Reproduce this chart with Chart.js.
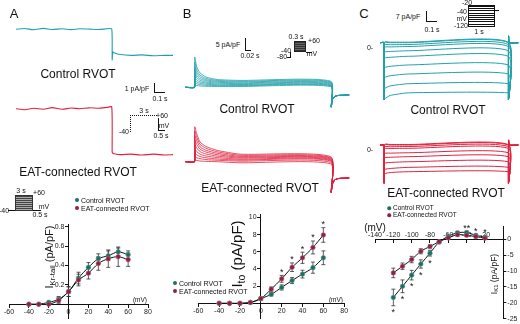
<!DOCTYPE html>
<html>
<head>
<meta charset="utf-8">
<title>IKr, Ito and IK1 in RVOT</title>
<script src="https://cdn.jsdelivr.net/npm/chart.js@4.4.1/dist/chart.umd.min.js"></script>
<style>
  body { margin: 0; background: #fff; }
  #fig { position: relative; width: 520px; height: 324px; overflow: hidden; font-family: Arial, "Liberation Sans", sans-serif; color: #111; }
  #fig canvas { position: absolute; z-index: 1; }
  .t, .l, .r { position: absolute; z-index: 2; white-space: nowrap; line-height: 1; }
  .t { transform: translate(-50%, -50%); }
  .l { transform: translateY(-50%); }
  .r { transform: translate(-100%, -50%); }
  .rot { transform: translate(-50%, -50%) rotate(-90deg); }
  .big { font-size: 12px; }
  .sm { font-size: 7px; }
  .ln { position: absolute; z-index: 2; background: #111; }
  .dot { position: absolute; z-index: 2; width: 4px; height: 4px; border-radius: 50%; transform: translate(-50%, -50%); }
  sub { font-size: 70%; vertical-align: -0.25em; }
</style>
</head>
<body>
<div id="fig">
  <!-- panel A -->
  <div class="t" style="left:14px;top:13px;font-size:13px">A</div>
  <div class="t big" style="left:78px;top:74px">Control RVOT</div>
  <div class="t sm" style="left:137px;top:88px">1 pA/pF</div>
  <div class="ln" style="left:154px;top:83px;width:1px;height:9px"></div>
  <div class="ln" style="left:154px;top:92px;width:11px;height:1px"></div>
  <div class="t sm" style="left:160px;top:98px">0.1 s</div>
  <div class="t sm" style="left:144px;top:110px">3 s</div>
  <div style="position:absolute;left:130px;top:115px;width:26px;height:16px;border-top:1px dotted #111;border-left:1px dotted #111"></div>
  <div class="r sm" style="left:129px;top:131px">-40</div>
  <div class="t sm" style="left:162px;top:115px">+60</div>
  <div class="ln" style="left:158px;top:118px;width:1px;height:12px"></div>
  <div class="ln" style="left:158px;top:130px;width:7px;height:1px"></div>
  <div class="t sm" style="left:164px;top:125px">mV</div>
  <div class="t sm" style="left:161px;top:135px">0.5 s</div>
  <div class="t big" style="left:78px;top:172px">EAT-connected RVOT</div>
  <div class="t sm" style="left:21px;top:190px">3 s</div>
  <div style="position:absolute;z-index:2;left:15px;top:195px;width:18px;height:16px;border:1px solid #333;box-sizing:border-box;background:repeating-linear-gradient(#444 0 1px,#aaa 1px 2px)"></div>
  <div class="ln" style="left:8px;top:210px;width:7px;height:1px"></div>
  <div class="ln" style="left:33px;top:210px;width:8px;height:1px"></div>
  <div class="t sm" style="left:39px;top:192px">+60</div>
  <div class="t sm" style="left:4px;top:210px">-40</div>
  <div class="t sm" style="left:44px;top:206px">mV</div>
  <div class="t sm" style="left:40px;top:214px">0.5 s</div>
  <div class="dot" style="left:77px;top:200px;background:#1e6e63"></div>
  <div class="l sm" style="left:81px;top:200px">Control RVOT</div>
  <div class="dot" style="left:77px;top:207.5px;background:#8b2242"></div>
  <div class="l sm" style="left:81px;top:207.5px">EAT-connected RVOT</div>
  <div class="t rot" style="left:50px;top:257px;font-size:11px">I<sub>Kr-tail</sub> (pA/pF)</div>
  <div class="t" style="left:140px;top:300px;font-size:6.5px">(mV)</div>

  <!-- panel B -->
  <div class="t" style="left:187px;top:13px;font-size:13px">B</div>
  <div class="t sm" style="left:228px;top:44px">5 pA/pF</div>
  <div class="ln" style="left:245px;top:38px;width:1px;height:12px"></div>
  <div class="ln" style="left:245px;top:50px;width:6px;height:1px"></div>
  <div class="t sm" style="left:250px;top:55px">0.02 s</div>
  <div class="t sm" style="left:296px;top:36px">0.3 s</div>
  <div style="position:absolute;z-index:2;left:294px;top:41px;width:12px;height:11px;border:1px solid #222;box-sizing:border-box;background:repeating-linear-gradient(#333 0 1px,#666 1px 2px)"></div>
  <div class="ln" style="left:290px;top:52px;width:1px;height:5px"></div>
  <div class="ln" style="left:287px;top:57px;width:4px;height:1px"></div>
  <div class="ln" style="left:306px;top:52px;width:6px;height:1px"></div>
  <div class="t sm" style="left:314px;top:40px">+60</div>
  <div class="t sm" style="left:286px;top:50px">-40</div>
  <div class="t sm" style="left:282px;top:56px">-80</div>
  <div class="t sm" style="left:312px;top:53px">mV</div>
  <div class="t big" style="left:257px;top:109px">Control RVOT</div>
  <div class="t big" style="left:260px;top:188px">EAT-connected RVOT</div>
  <div class="dot" style="left:175px;top:283px;background:#1e6e63"></div>
  <div class="l sm" style="left:179px;top:283px">Control RVOT</div>
  <div class="dot" style="left:175px;top:291px;background:#8b2242"></div>
  <div class="l sm" style="left:179px;top:291px">EAT-connected RVOT</div>
  <div class="t rot" style="left:238px;top:254px;font-size:15px">I<sub>to</sub> (pA/pF)</div>
  <div class="t" style="left:336px;top:300px;font-size:6.5px">(mV)</div>

  <!-- panel C -->
  <div class="t" style="left:364px;top:13px;font-size:13px">C</div>
  <div class="t sm" style="left:408px;top:15.5px">7 pA/pF</div>
  <div class="ln" style="left:426px;top:11px;width:1px;height:10px"></div>
  <div class="ln" style="left:426px;top:21px;width:11px;height:1px"></div>
  <div class="t sm" style="left:432px;top:29px">0.1 s</div>
  <div style="position:absolute;z-index:2;left:468px;top:5px;width:27px;height:22px;border:1px solid #111;box-sizing:border-box;background:repeating-linear-gradient(#111 0 1px,#fff 1px 2.2px)"></div>
  <div class="ln" style="left:495px;top:10px;width:4px;height:1px"></div>
  <div class="t sm" style="left:467px;top:2px">-20</div>
  <div class="r sm" style="left:467px;top:10.5px">-40</div>
  <div class="r sm" style="left:467px;top:17.5px">mV</div>
  <div class="r sm" style="left:468px;top:24.5px">-120</div>
  <div class="t sm" style="left:479px;top:30.5px">1 s</div>
  <div class="t sm" style="left:370px;top:47px">0-</div>
  <div class="t sm" style="left:370px;top:149px">0-</div>
  <div class="t big" style="left:448px;top:110px">Control RVOT</div>
  <div class="t big" style="left:446px;top:193px">EAT-connected RVOT</div>
  <div class="dot" style="left:389px;top:208px;width:3.5px;height:3.5px;background:#1e6e63"></div>
  <div class="l" style="left:393px;top:208px;font-size:6.5px">Control RVOT</div>
  <div class="dot" style="left:389px;top:215px;width:3.5px;height:3.5px;background:#8b2242"></div>
  <div class="l" style="left:393px;top:215px;font-size:6.5px">EAT-connected RVOT</div>
  <div class="t rot" style="left:495px;top:274px;font-size:8.5px">I<sub>K1</sub> (pA/pF)</div>
  <div class="t" style="left:375px;top:228px;font-size:10px">(mV)</div>
</div>

<script>
// ---- A: IKr tail current ----
const vA = [-40, -30, -20, -10, 0, 10, 20, 30, 40, 50, 60];
const ctrlA = [0, 0, 0.02, 0.05, 0.13, 0.27, 0.38, 0.47, 0.50, 0.54, 0.51];
const ctrlErrA = [0.005, 0.005, 0.01, 0.03, 0.05, 0.06, 0.05, 0.05, 0.05, 0.04, 0.04];
const eatA = [0, 0, 0, 0.04, 0.13, 0.25, 0.32, 0.42, 0.47, 0.49, 0.46];
const eatErrA = [0.005, 0.005, 0.005, 0.03, 0.05, 0.06, 0.06, 0.07, 0.09, 0.10, 0.07];
const xTicksA = [-60, -40, -20, 0, 20, 40, 60, 80];
const yTicksA = [0.2, 0.4, 0.6, 0.8];

// example traces (s, pA/pF)
const tA = [0, 0.08, 0.16, 0.25, 0.33, 0.42, 0.5, 0.58, 0.67, 0.75, 0.83, 0.872, 0.876, 0.882, 0.892, 0.95, 1.05, 1.15, 1.25, 1.35, 1.43];
const ctrlTraceA = [0, 0.08, -0.05, 0.1, -0.03, 0.06, -0.04, 0.05, 0.02, -0.03, 0.05, 0.05, -3.4, -2.5, -2.6, -2.8, -2.9, -2.85, -2.95, -2.9, -2.9];
const eatTraceA = [0, -0.12, 0.05, -0.05, 0.12, -0.06, 0.08, 0, 0.1, 0.05, 0.15, 0.2, -4.8, -4.95, -5.0, -5.1, -5.05, -5.15, -5.05, -5.15, -5.1];

// ---- B: Ito ----
const vB = [-40, -30, -20, -10, 0, 10, 20, 30, 40, 50, 60];
const ctrlB = [0, 0, 0, 0.1, 0.55, 1.05, 1.85, 2.65, 3.4, 4.15, 5.3];
const ctrlErrB = [0.05, 0.05, 0.05, 0.1, 0.15, 0.2, 0.3, 0.35, 0.45, 0.65, 0.8];
const eatB = [0, 0, 0, 0.1, 0.55, 1.65, 2.85, 4.2, 5.3, 6.5, 7.95];
const eatErrB = [0.05, 0.05, 0.05, 0.1, 0.15, 0.25, 0.4, 0.5, 0.65, 0.75, 0.85];
const starsB = [20, 30, 40, 50, 60];
const xTicksB = [-60, -40, -20, 0, 20, 40, 60, 80];
const yTicksB = [2, 4, 6, 8, 10];

// example traces (ms, pA/pF): values at tB for each step
const tB = [-20, 0, 0.5, 5, 12, 25, 50, 100, 299.5, 300.5, 303, 308, 315, 340];
const ctrlTraceB = [
  [16.8, 11.3, 8.0, 5.7, 4.3, 3.8, 3.4],
  [14.0, 9.5, 6.8, 4.9, 3.8, 3.3, 3.0],
  [11.5, 8.0, 5.8, 4.2, 3.3, 2.9, 2.6],
  [9.5, 6.6, 4.8, 3.6, 2.8, 2.4, 2.2],
  [7.5, 5.3, 3.9, 2.9, 2.3, 2.0, 1.8],
  [5.5, 4.0, 3.0, 2.3, 1.8, 1.5, 1.4],
  [4.0, 2.9, 2.2, 1.7, 1.3, 1.1, 1.0],
  [2.5, 1.9, 1.4, 1.1, 0.9, 0.8, 0.7],
  [1.2, 0.9, 0.7, 0.5, 0.4, 0.4, 0.3]
];
const ctrlTailB = [-11, -7, -5.2, -4.6, -4.3];
const eatTraceB = [
  [19.4, 15.5, 11.0, 8.5, 6.3, 4.2, 2.8],
  [17.0, 13.5, 9.7, 7.5, 5.5, 3.6, 2.3],
  [14.5, 11.6, 8.3, 6.4, 4.7, 3.0, 1.9],
  [12.0, 9.6, 7.0, 5.4, 3.9, 2.5, 1.5],
  [9.5, 7.6, 5.6, 4.3, 3.1, 2.0, 1.1],
  [7.0, 5.6, 4.2, 3.2, 2.3, 1.4, 0.7],
  [4.8, 3.8, 2.9, 2.2, 1.5, 0.9, 0.3],
  [2.8, 2.2, 1.7, 1.2, 0.8, 0.3, -0.4],
  [1.0, 0.7, 0.4, 0.2, 0.0, -0.6, -1.2]
];
const eatTailB = [-17, -12.5, -10.2, -9.4, -9];

// ---- C: IK1 ----
const vC = [-120, -110, -100, -90, -80, -70, -60, -50, -40, -30, -20];
const ctrlC = [-18.3, -14.8, -11.3, -7.8, -4.4, -0.9, 0.9, 2.0, 2.1, 1.2, 0.6];
const ctrlErrC = [2.6, 2.0, 1.5, 1.3, 0.9, 0.5, 0.4, 0.4, 0.4, 0.4, 0.4];
const eatC = [-10.6, -8.5, -6.4, -3.8, -2.3, -0.8, 0.4, 1.4, 1.2, 0.8, 0.3];
const eatErrC = [1.5, 1.0, 1.0, 0.8, 0.5, 0.4, 0.4, 0.4, 0.4, 0.4, 0.4];
const starsBelowC = [-120, -110, -100, -90, -80];
const starsAboveC = [-40, -30, -20];
const starTextAboveC = ['**', '*', '*'];
const xTicksC = [-140, -120, -100, -80, -60, -40, -20];
const yTicksC = [0, -5, -10, -15, -20, -25];

// example traces (s, pA/pF)
const tC = [-0.03, 0, 0.001, 0.004, 0.05, 0.2, 1.0, 1.001, 1.002, 1.008, 1.08];
const ctrlStartC = [0.5, 0, -2.2, -4.5, -9.2, -14.9, -23.9, -33.3, -43.7, -53.1];
const ctrlMidC = [0.5, 0, -1.9, -4.0, -8.3, -13.8, -22.3, -31.2, -40.8, -49.8];
const ctrlLevelC = [0.5, 0, -1.7, -3.6, -7.6, -12.8, -21.0, -29.5, -38.7, -47.3];
const ctrlEdgeC = [-53.5, 6.3];
const eatStartC = [0.5, 0, -1.8, -3.6, -8.2, -12.3, -17.5, -23.5, -27.5];
const eatMidC = [0.5, 0, -1.6, -3.3, -7.7, -11.6, -16.5, -22.2, -26.0];
const eatLevelC = [0.5, 0, -1.4, -3.1, -7.3, -11.0, -15.8, -21.1, -25.2];
const eatEdgeC = [-36, 4.7];

const TEAL = '#22a0aa';
const RED = '#e0223f';
const TEAL_DK = '#1e6e63';
const RED_DK = '#8b2242';

Chart.defaults.font.family = 'Arial, "Liberation Sans", sans-serif';

function addCanvas(x, y, w, h) {
    const c = document.createElement('canvas');
    c.width = w;
    c.height = h;
    c.style.left = x + 'px';
    c.style.top = y + 'px';
    document.getElementById('fig').appendChild(c);
    return c;
}

function pts(xs, ys) {
    return xs.map((x, i) => ({ x: x, y: ys[i] }));
}

const common = {
    responsive: false, animation: false, devicePixelRatio: 1, events: [],
    plugins: { legend: { display: false }, tooltip: { enabled: false } }
};

function traceChart(box, xr, yr, traces, color, width) {
    new Chart(addCanvas(...box), {
        type: 'line',
        data: { datasets: traces.map(d => ({ data: d, borderColor: color, borderWidth: width, pointRadius: 0, tension: 0.2, fill: false })) },
        options: Object.assign({}, common, {
            layout: { padding: 0 },
            scales: {
                x: { type: 'linear', display: false, min: xr[0], max: xr[1] },
                y: { type: 'linear', display: false, min: yr[0], max: yr[1] }
            }
        })
    });
}

// traces A
traceChart([16, 20, 157, 45], [0, 1.43], [-3.97, 1.03], [pts(tA, ctrlTraceA)], TEAL, 1.1);
traceChart([16, 100, 157, 60], [0, 1.43], [-5.7, 0.97], [pts(tA, eatTraceA)], RED, 1.1);

// traces B
function rowsB(rows, tail) {
    return rows.map(r => pts(tB, [0, 0].concat(r, tail)));
}
traceChart([180, 50, 170, 70], [-31.9, 341.8], [-18.2, 20.7], rowsB(ctrlTraceB, ctrlTailB), TEAL, 0.8);
traceChart([180, 120, 170, 80], [-31.9, 341.8], [-21.3, 23.2], rowsB(eatTraceB, eatTailB), RED, 0.8);

// traces C
function rowsC(start, mid, level, edge) {
    return level.map((lv, i) => pts(tC, [0, 0, edge[0], start[i], mid[i], lv, lv, edge[0], edge[1], 0, 0]));
}
traceChart([376, 30, 144, 75], [-0.064, 1.094], [-58.8, 12], rowsC(ctrlStartC, ctrlMidC, ctrlLevelC, ctrlEdgeC), TEAL, 1);
traceChart([376, 130, 144, 60], [-0.064, 1.094], [-42.5, 14.2], rowsC(eatStartC, eatMidC, eatLevelC, eatEdgeC), RED, 1);

// error bars + significance stars
function marksPlugin(sets, stars) {
    return {
        id: 'marks',
        beforeDatasetsDraw(chart) {
            const { ctx, scales: { x, y } } = chart;
            ctx.save();
            ctx.strokeStyle = '#333';
            ctx.lineWidth = 0.8;
            sets.forEach(s => {
                s.x.forEach((v, i) => {
                    const px = x.getPixelForValue(v);
                    const y1 = y.getPixelForValue(s.y[i] + s.e[i]);
                    const y2 = y.getPixelForValue(s.y[i] - s.e[i]);
                    ctx.beginPath();
                    ctx.moveTo(px, y1); ctx.lineTo(px, y2);
                    ctx.moveTo(px - 2, y1); ctx.lineTo(px + 2, y1);
                    ctx.moveTo(px - 2, y2); ctx.lineTo(px + 2, y2);
                    ctx.stroke();
                });
            });
            ctx.restore();
        },
        afterDatasetsDraw(chart) {
            const { ctx, scales: { x, y } } = chart;
            ctx.save();
            ctx.fillStyle = '#111';
            ctx.font = '9px Arial, "Liberation Sans", sans-serif';
            ctx.textAlign = 'center';
            ctx.textBaseline = 'middle';
            stars.forEach(st => {
                st.at.forEach((v, i) => {
                    const k = st.set.x.indexOf(v);
                    const val = st.up ? st.set.y[k] + st.set.e[k] : st.set.y[k] - st.set.e[k];
                    const py = y.getPixelForValue(val) + (st.up ? -3 : 7);
                    ctx.fillText(st.text ? st.text[i] : '*', x.getPixelForValue(v), py);
                });
            });
            ctx.restore();
        }
    };
}

function axis(min, max, ticks, position, extra) {
    return Object.assign({
        type: 'linear', min: min, max: max, position: position,
        grid: { drawOnChartArea: false, color: '#111', tickLength: 3 },
        border: { color: '#111', width: 1 },
        ticks: { font: { size: 7 }, color: '#222', padding: 1, callback: v => String(v) },
        afterBuildTicks: s => { s.ticks = ticks.map(v => ({ value: v })); }
    }, extra || {});
}

// y labels of a crossing axis sit right on the line, so pad them with spaces
const yLabelGap = { font: { size: 7 }, color: '#222', padding: 1, callback: v => v + '\u2009\u2009\u2009' };

function ivSets(vs, c, e) {
    return [
        { data: pts(vs, e), borderColor: '#111', borderWidth: 1, tension: 0.3, pointRadius: 2.3, pointBackgroundColor: RED_DK, pointBorderColor: '#b06a7c', pointBorderWidth: 0.6 },
        { data: pts(vs, c), borderColor: '#111', borderWidth: 1, tension: 0.3, pointRadius: 2.3, pointBackgroundColor: TEAL_DK, pointBorderColor: '#5f9a91', pointBorderWidth: 0.6 }
    ];
}

// IV A
const setsA = [{ x: vA, y: ctrlA, e: ctrlErrA }, { x: vA, y: eatA, e: eatErrA }];
new Chart(addCanvas(0, 215, 170, 109), {
    type: 'line',
    data: { datasets: ivSets(vA, ctrlA, eatA) },
    options: Object.assign({}, common, {
        layout: { padding: { left: 9, right: 22, top: 9.7, bottom: 2.3 } },
        scales: {
            x: axis(-60, 80, xTicksA, { y: 0 }),
            y: axis(-0.15, 0.82, yTicksA, { x: 0 }, { ticks: yLabelGap })
        }
    }),
    plugins: [marksPlugin(setsA, [])]
});

// IV B
const setsB = [{ x: vB, y: ctrlB, e: ctrlErrB }, { x: vB, y: eatB, e: eatErrB }];
new Chart(addCanvas(170, 205, 180, 119), {
    type: 'line',
    data: { datasets: ivSets(vB, ctrlB, eatB) },
    options: Object.assign({}, common, {
        layout: { padding: { left: 28.3, right: 5.8, top: 9.8, bottom: 2.1 } },
        scales: {
            x: axis(-60, 80, xTicksB, { y: 0 }),
            y: axis(-1.8, 10.3, yTicksB, { x: 0 }, { ticks: yLabelGap })
        }
    }),
    plugins: [marksPlugin(setsB, [{ set: setsB[1], at: starsB, up: true }])]
});

// IV C
const setsC = [{ x: vC, y: ctrlC, e: ctrlErrC }, { x: vC, y: eatC, e: eatErrC }];
new Chart(addCanvas(345, 220, 175, 104), {
    type: 'line',
    data: { datasets: ivSets(vC, ctrlC, eatC) },
    options: Object.assign({}, common, {
        layout: { padding: { left: 30, right: 2.7, top: 6.4, bottom: 3.95 } },
        scales: {
            x: axis(-140, 0, xTicksC, { y: 0 }, { ticks: { font: { size: 7 }, color: '#222', padding: -11.5, callback: v => String(v) } }),
            y: axis(-25, 4, yTicksC, 'right', { afterFit: s => { s.width = 14; } })
        }
    }),
    plugins: [marksPlugin(setsC, [
        { set: setsC[0], at: starsBelowC, up: false },
        { set: setsC[0], at: starsAboveC, up: true, text: starTextAboveC }
    ])]
});
</script>
</body>
</html>
